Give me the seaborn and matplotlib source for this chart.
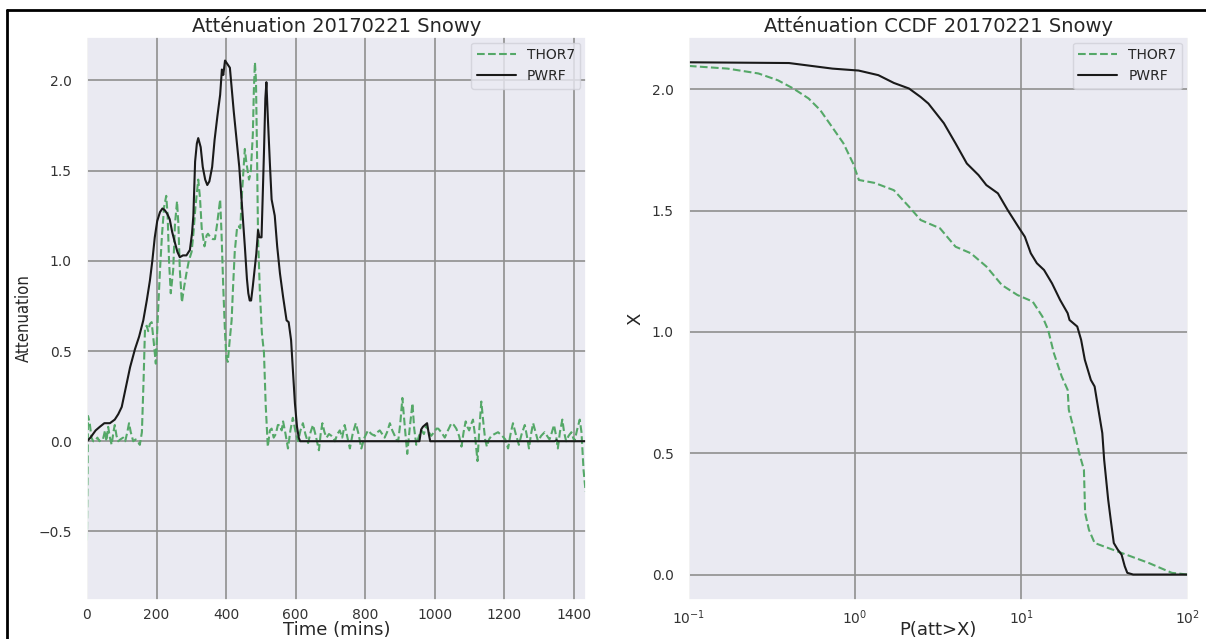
import matplotlib
matplotlib.use('Agg')
import matplotlib.pyplot as plt
from matplotlib.lines import Line2D
import seaborn as sns

# --- time series (minutes, attenuation) ---
pwrf_t = [0, 10, 25, 37, 50, 60, 66, 80, 90, 100, 112, 124, 138, 150, 162, 172, 181, 188,
          195, 202, 210, 217, 224, 231, 238, 245, 253, 260, 267, 276, 286, 296, 302, 306,
          311, 316, 320, 327, 333, 340, 346, 352, 360, 367, 375, 383, 388, 392, 397, 404,
          411, 422, 438, 454, 460, 464, 468, 472, 477, 482, 487, 492, 496, 502, 509, 513,
          516, 520, 526, 531, 540, 547, 555, 564, 574, 580, 587, 592, 598, 604, 609, 613,
          700, 800, 900, 956, 961, 966, 972, 978, 983, 987, 1100, 1200, 1300, 1345, 1350,
          1355, 1439]
pwrf_v = [0.0, 0.02, 0.06, 0.08, 0.10, 0.10, 0.10, 0.12, 0.15, 0.19, 0.30, 0.41, 0.51, 0.58,
          0.67, 0.78, 0.89, 1.00, 1.13, 1.22, 1.27, 1.29, 1.28, 1.26, 1.23, 1.16, 1.10, 1.05,
          1.02, 1.03, 1.03, 1.06, 1.15, 1.25, 1.55, 1.65, 1.68, 1.63, 1.52, 1.45, 1.42, 1.44,
          1.52, 1.67, 1.80, 1.92, 2.06, 2.03, 2.11, 2.09, 2.07, 1.83, 1.52, 1.08, 0.90, 0.82,
          0.78, 0.78, 0.86, 0.95, 1.04, 1.17, 1.13, 1.13, 1.60, 1.90, 1.99, 1.80, 1.54, 1.34,
          1.25, 1.08, 0.93, 0.80, 0.67, 0.66, 0.56, 0.40, 0.21, 0.08, 0.02, 0.0, 0.0, 0.0,
          0.0, 0.0, 0.065, 0.08, 0.09, 0.10, 0.04, 0.0, 0.0, 0.0, 0.0, 0.0, 0.005, 0.0, 0.0]

thor_t = [0, 3, 8, 13, 18, 23, 30, 36, 41, 46, 52, 56, 61, 66, 71, 76, 80, 85, 90, 96, 104,
          110, 116, 121, 126, 133, 140, 146, 152, 158, 163, 167, 172, 176, 181, 186, 192, 198,
          204, 210, 216, 222, 228, 232, 236, 241, 248, 253, 259, 263, 267, 273, 279, 286, 293,
          301, 306, 312, 320, 325, 330, 338, 344, 348, 355, 362, 368, 374, 383, 387, 392, 397,
          401, 405, 410, 416, 420, 425, 432, 437, 441, 445, 449, 454, 458, 466, 471, 477, 480,
          483, 486, 489, 492, 497, 503, 509, 514, 520, 526, 531, 537, 543, 549, 554, 560, 564,
          571, 578, 585, 592, 600, 607, 614, 621, 628, 636, 643, 650, 658, 667, 672, 677, 683,
          689, 696, 703, 708, 713, 720, 727, 734, 741, 748, 756, 764, 773, 781, 789, 798, 808,
          818, 828, 835, 842, 849, 856, 863, 871, 878, 885, 890, 895, 901, 907, 914, 921, 928,
          936, 941, 947, 955, 962, 969, 976, 983, 990, 998, 1005, 1010, 1019, 1029, 1038, 1048,
          1055, 1062, 1070, 1077, 1083, 1089, 1094, 1099, 1104, 1110, 1116, 1123, 1128, 1134,
          1140, 1145, 1150, 1156, 1163, 1172, 1182, 1188, 1194, 1203, 1211, 1218, 1225, 1233,
          1242, 1250, 1259, 1265, 1271, 1277, 1283, 1290, 1297, 1306, 1316, 1323, 1330, 1337,
          1343, 1349, 1354, 1360, 1367, 1372, 1378, 1385, 1393, 1398, 1402, 1409, 1417, 1422,
          1428, 1434]
thor_v = [-0.55, 0.14, 0.10, 0.02, 0.00, 0.00, 0.02, 0.00, 0.01, 0.01, 0.06, 0.0, 0.08, 0.02,
          -0.02, 0.05, 0.09, 0.03, 0.0, 0.01, 0.02, 0.0, 0.05, 0.10, 0.05, 0.0, 0.01, 0.0, -0.02,
          0.05, 0.35, 0.63, 0.64, 0.61, 0.65, 0.66, 0.55, 0.43, 0.70, 0.95, 1.15, 1.30, 1.36,
          1.25, 1.00, 0.82, 0.95, 1.20, 1.33, 1.20, 0.95, 0.77, 0.85, 0.93, 1.00, 1.05, 1.15,
          1.30, 1.45, 1.35, 1.18, 1.08, 1.14, 1.15, 1.13, 1.12, 1.12, 1.20, 1.34, 1.15, 0.85,
          0.60, 0.46, 0.44, 0.55, 0.67, 0.85, 1.05, 1.19, 1.19, 1.18, 1.35, 1.47, 1.62, 1.55,
          1.45, 1.49, 1.70, 1.95, 2.10, 2.00, 1.60, 1.13, 0.84, 0.60, 0.49, 0.20, -0.03, 0.06,
          0.07, 0.02, 0.04, 0.09, 0.09, 0.06, 0.11, 0.04, -0.04, 0.06, 0.13, 0.05, 0.0, 0.06,
          0.10, 0.04, -0.01, 0.05, 0.09, 0.03, -0.05, 0.04, 0.10, 0.05, 0.02, 0.04, 0.03, 0.02,
          0.0, 0.04, 0.06, 0.02, 0.09, 0.03, -0.04, 0.04, 0.10, 0.04, -0.04, 0.02, 0.06, 0.04,
          0.03, 0.05, 0.06, 0.04, 0.02, 0.05, 0.10, 0.06, 0.03, 0.01, 0.0, 0.10, 0.24, 0.08,
          -0.07, 0.07, 0.21, 0.07, -0.02, 0.03, 0.06, 0.04, 0.09, 0.05, 0.03, 0.05, 0.07, 0.07,
          0.05, 0.02, 0.06, 0.10, 0.09, 0.07, 0.03, -0.03, 0.05, 0.11, 0.08, 0.06, 0.09, 0.12,
          0.03, -0.11, 0.06, 0.22, 0.10, 0.01, -0.03, 0.01, 0.03, 0.04, 0.05, 0.04, 0.03, 0.01,
          -0.04, 0.04, 0.10, 0.04, -0.02, 0.04, 0.09, 0.03, -0.04, 0.04, 0.10, 0.05, 0.0, 0.03,
          0.05, 0.03, 0.01, 0.05, 0.09, 0.03, -0.04, 0.05, 0.12, 0.05, 0.0, 0.03, 0.05, 0.02,
          0.0, 0.06, 0.12, 0.05, -0.16, -0.28]

# --- CCDF curves: P(att>X) in %, threshold X ---
pwrf_p = [0.1, 0.40, 0.73, 1.05, 1.38, 1.71, 2.11, 2.48, 2.76, 3.42, 4.02, 4.70, 5.53, 6.16,
          7.23, 8.28, 9.72, 10.5, 11.4, 12.4, 13.7, 15.3, 17.1, 19.0, 19.5, 21.7, 22.9, 24.1,
          26.2, 27.6, 29.1, 30.7, 31.5, 33.3, 34.5, 36.0, 38.0, 40.1, 41.9, 43.4, 47.1, 100]
pwrf_x = [2.111, 2.108, 2.085, 2.077, 2.058, 2.026, 2.003, 1.968, 1.941, 1.86, 1.777, 1.694,
          1.646, 1.605, 1.571, 1.502, 1.427, 1.392, 1.324, 1.283, 1.255, 1.20, 1.132, 1.077,
          1.049, 1.022, 0.967, 0.885, 0.802, 0.775, 0.679, 0.583, 0.473, 0.309, 0.226, 0.13,
          0.103, 0.082, 0.034, 0.007, 0.0, 0.0]

thor_p = [0.1, 0.171, 0.262, 0.343, 0.425, 0.525, 0.617, 0.726, 0.851, 0.973, 1.054, 1.31,
          1.71, 2.11, 2.48, 3.24, 4.02, 4.97, 6.17, 7.64, 9.47, 11.7, 13.4, 14.5, 15.7, 17.5,
          19.0, 19.3, 20.5, 22.3, 23.8, 24.2, 25.5, 27.6, 40.1, 58.3, 80.4, 100]
thor_x = [2.096, 2.085, 2.065, 2.037, 2.003, 1.962, 1.914, 1.845, 1.777, 1.694, 1.626, 1.614,
          1.584, 1.516, 1.461, 1.427, 1.351, 1.324, 1.269, 1.193, 1.152, 1.125, 1.063, 1.008,
          0.912, 0.816, 0.761, 0.679, 0.61, 0.5, 0.432, 0.254, 0.185, 0.13, 0.089, 0.048,
          0.007, 0.0]

sns.set_theme(style='darkgrid')
plt.rcParams.update({
    'font.family': ['DejaVu Sans'],
    'grid.color': '#8f8f8f',
    'grid.linewidth': 1.2,
    'axes.facecolor': '#EAEAF2',
})

GREEN = '#55A868'
BLACK = '#1A1A1A'

fig = plt.figure(figsize=(12.06, 6.39), dpi=100)
ax1 = fig.add_axes([0.0721, 0.061, 0.4138, 0.881])
ax2 = fig.add_axes([0.5712, 0.061, 0.4135, 0.881])

# Left: time series
sns.lineplot(x=thor_t, y=thor_v, ax=ax1, color=GREEN, linestyle='--', lw=1.5,
             label='THOR7', sort=False, estimator=None)
sns.lineplot(x=pwrf_t, y=pwrf_v, ax=ax1, color=BLACK, lw=1.5,
             label='PWRF', sort=False, estimator=None)
ax1.set_xlim(0, 1435)
ax1.set_ylim(-0.88, 2.24)
ax1.set_xticks([0, 200, 400, 600, 800, 1000, 1200, 1400])
ax1.set_yticks([-0.5, 0.0, 0.5, 1.0, 1.5, 2.0])
ax1.set_title('Atténuation 20170221 Snowy', fontsize=14, pad=4)
ax1.set_xlabel('Time (mins)', fontsize=13)
ax1.set_ylabel('Attenuation', fontsize=12, fontstretch='condensed')
ax1.xaxis.set_label_coords(0.5, -0.038, transform=ax1.transAxes)
ax1.yaxis.set_label_coords(-0.108, 0.5, transform=ax1.transAxes)

# Right: CCDF
sns.lineplot(x=thor_p, y=thor_x, ax=ax2, color=GREEN, linestyle='--', lw=1.5,
             label='THOR7', sort=False, estimator=None)
sns.lineplot(x=pwrf_p, y=pwrf_x, ax=ax2, color=BLACK, lw=1.5,
             label='PWRF', sort=False, estimator=None)
ax2.set_xscale('log')
ax2.set_xlim(0.1, 100)
ax2.set_ylim(-0.105, 2.215)
ax2.set_yticks([0.0, 0.5, 1.0, 1.5, 2.0])
ax2.set_title('Atténuation CCDF 20170221 Snowy', fontsize=14, pad=4)
ax2.set_xlabel('P(att>X)', fontsize=13)
ax2.set_ylabel('X', fontsize=13)
ax2.xaxis.set_label_coords(0.5, -0.038, transform=ax2.transAxes)
ax2.yaxis.set_label_coords(-0.090, 0.5, transform=ax2.transAxes)

for ax in (ax1, ax2):
    ax.tick_params(axis='x', labelsize=10, colors='#333333', length=0, pad=6)
    ax.tick_params(axis='y', labelsize=10, colors='#333333', length=0, pad=11)
    ax.grid(True, which='major', color='#8f8f8f', lw=1.2)
    ax.legend(loc='upper right', fontsize=10, frameon=True, facecolor='#EAEAF2',
              edgecolor='#d0d0d8', handlelength=2.8, borderaxespad=0.4)

# black frame around the figure
fig.add_artist(Line2D([7 / 1206, 1], [1 - 10 / 639, 1 - 10 / 639], color='black', lw=2,
                      transform=fig.transFigure))
fig.add_artist(Line2D([7 / 1206, 7 / 1206], [0, 1 - 10 / 639], color='black', lw=2,
                      transform=fig.transFigure))

fig.savefig('out.png', dpi=100, facecolor='white')
